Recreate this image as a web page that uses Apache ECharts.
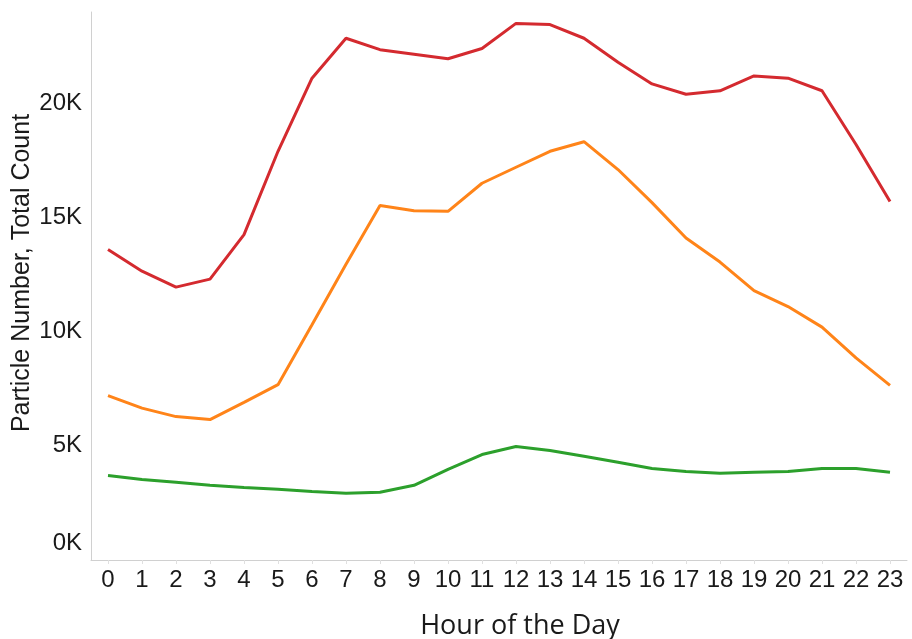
<!DOCTYPE html>
<html>
<head>
<meta charset="utf-8">
<script src="https://cdn.jsdelivr.net/npm/echarts@6/dist/echarts.min.js"></script>
<style>
  html, body { margin: 0; padding: 0; background: #fff; }
  #chart { width: 912px; height: 639px; }
</style>
</head>
<body>
<div id="chart"></div>
<script>
// hours 0..23
const hours = ["0","1","2","3","4","5","6","7","8","9","10","11","12","13","14","15","16","17","18","19","20","21","22","23"];

const redVals = [13600, 12650, 11950, 12300, 14250, 17900, 21100, 22850, 22350, 22150, 21950, 22400,
                 23500, 23450, 22850, 21800, 20850, 20400, 20550, 21200, 21100, 20550, 18200, 15700];
const orangeVals = [7200, 6650, 6280, 6150, 6900, 7680, 10300, 12950, 15530, 15300, 15270, 16500,
                    17200, 17900, 18320, 17100, 15650, 14100, 13050, 11800, 11100, 10200, 8850, 7650];
const greenVals = [3700, 3530, 3400, 3270, 3180, 3100, 3000, 2920, 2970, 3270, 3970, 4620,
                   4970, 4800, 4540, 4280, 4010, 3880, 3800, 3840, 3880, 4010, 4010, 3840];

const yTicks = [0, 5000, 10000, 15000, 20000];

const chart = echarts.init(document.getElementById("chart"));

function line(name, data, color) {
  return {
    name: name,
    type: "line",
    data: data,
    symbol: "none",
    lineStyle: { color: color, width: 3 },
    itemStyle: { color: color }
  };
}

const txt = "#1a1a1a";

chart.setOption({
  animation: false,
  grid: { left: 91, right: 5, top: 12, bottom: 79, outerBoundsMode: "none" },
  xAxis: {
    type: "category",
    data: hours,
    boundaryGap: true,
    name: "Hour of the Day",
    nameLocation: "middle",
    nameGap: 53,
    nameMoveOverlap: false,
    nameTextStyle: { fontFamily: "Open Sans", fontSize: 27, color: txt, padding: [0, 0, 0, 42] },
    axisLine: { lineStyle: { color: "#d0d0d0" } },
    axisTick: { show: true, alignWithLabel: true, length: 4, lineStyle: { color: "#e0e0e0" } },
    axisLabel: { fontFamily: "Liberation Sans", fontSize: 24, color: txt, margin: 8, interval: 0 }
  },
  yAxis: {
    type: "value",
    min: 0,
    max: 24000,
    interval: 5000,
    name: "Particle Number, Total Count",
    nameLocation: "middle",
    nameGap: 56,
    nameMoveOverlap: false,
    nameTextStyle: { fontFamily: "Liberation Sans", fontSize: 25, color: txt, padding: [0, 0, 0, 26] },
    axisLine: { show: true, lineStyle: { color: "#d0d0d0" } },
    axisTick: { show: false },
    splitLine: { show: false },
    axisLabel: {
      fontFamily: "Liberation Sans",
      fontSize: 24,
      color: txt,
      margin: 9,
      customValues: yTicks,
      formatter: function (v) {
        const t = (v / 1000) + "K";
        return v === 0 ? "{z|" + t + "}" : t;
      },
      rich: { z: { fontFamily: "Liberation Sans", fontSize: 24, color: txt, padding: [0, 0, 34, 0] } }
    }
  },
  series: [
    line("Red", redVals, "#d42a2f"),
    line("Orange", orangeVals, "#ff8419"),
    line("Green", greenVals, "#2ca02c")
  ]
});
</script>
</body>
</html>
